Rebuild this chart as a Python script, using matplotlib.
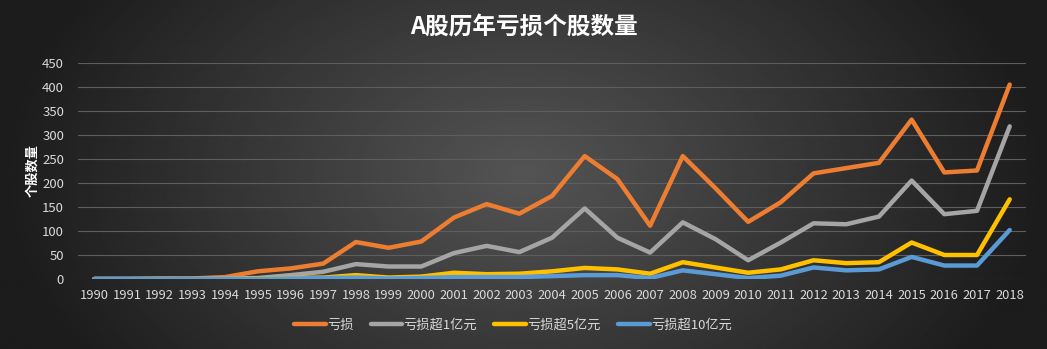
import numpy as np
import matplotlib.pyplot as plt

plt.rcParams['font.family'] = ['Noto Sans CJK SC', 'DejaVu Sans']

years = [str(y) for y in range(1990, 2019)]
kuisun = [0, 0, 1, 1, 4, 16, 22, 32, 77, 65, 78, 128, 156, 136, 173, 256, 208, 111, 256, 189,
          119, 160, 220, 231, 242, 332, 222, 226, 405]
chao1 = [0, 0, 0, 0, 1, 2, 8, 15, 31, 26, 26, 54, 69, 56, 86, 147, 86, 55, 118, 83,
         39, 76, 116, 114, 130, 205, 135, 142, 318]
chao5 = [0, 0, 0, 0, 0, 1, 2, 3, 8, 3, 5, 13, 10, 11, 16, 23, 20, 11, 35, 24,
         13, 20, 39, 33, 35, 76, 50, 50, 166]
chao10 = [0, 0, 0, 0, 0, 0, 1, 2, 3, 1, 2, 4, 4, 4, 6, 8, 8, 2, 18, 10,
          2, 7, 24, 18, 20, 46, 28, 28, 102]

series = [('亏损', kuisun, '#ED7D31'),
          ('亏损超1亿元', chao1, '#A5A5A5'),
          ('亏损超5亿元', chao5, '#FFC000'),
          ('亏损超10亿元', chao10, '#5B9BD5')]

fig = plt.figure(figsize=(10.47, 3.49), dpi=100)

# fundo com gradiente radial escuro
bg = fig.add_axes([0, 0, 1, 1], zorder=-10)
gx, gy = np.meshgrid(np.linspace(-1, 1, 400), np.linspace(-1, 1, 200))
r = np.sqrt(gx ** 2 + (gy / 2.0) ** 2)
r = np.clip(r, 0, 1)
bg.imshow(0.33 - 0.22 * r, cmap='gray', vmin=0, vmax=1, aspect='auto',
          extent=[0, 1, 0, 1])
bg.axis('off')

ax = fig.add_axes([0.0745, 0.2006, 0.9055, 0.619])
ax.set_facecolor('none')
x = np.arange(len(years))
for i, (nome, vals, cor) in enumerate(series):
    ax.plot(x, vals, color=cor, linewidth=3.2, label=nome, zorder=3 + i,
            solid_joinstyle='round', solid_capstyle='round')

ax.set_xlim(-0.5, len(years) - 0.5)
ax.set_ylim(0, 450)
ax.set_yticks(range(0, 451, 50))
ax.set_xticks(x)
ax.set_xticklabels(years)
ax.grid(axis='y', color='#5e5e5e', linewidth=0.8)
ax.set_axisbelow(True)
for s in ax.spines.values():
    s.set_visible(False)
ax.tick_params(length=0, colors='#d9d9d9')
ax.tick_params(axis='x', pad=7, labelsize=9.3)
ax.tick_params(axis='y', pad=10, labelsize=9.5)
ax.set_ylabel('个股数量', color='white', fontsize=9.5, fontweight='bold', labelpad=2)

fig.text(0.5, 0.92, 'A股历年亏损个股数量', color='white', fontsize=17,
         fontweight='bold', ha='center', va='center')

leg = fig.legend(loc='center', bbox_to_anchor=(0.49, 0.068), ncol=4, frameon=False,
                 fontsize=9.5, handlelength=2.4, handletextpad=0.1, columnspacing=1.3)
for t in leg.get_texts():
    t.set_color('#d9d9d9')

plt.savefig('out.png', dpi=100)
